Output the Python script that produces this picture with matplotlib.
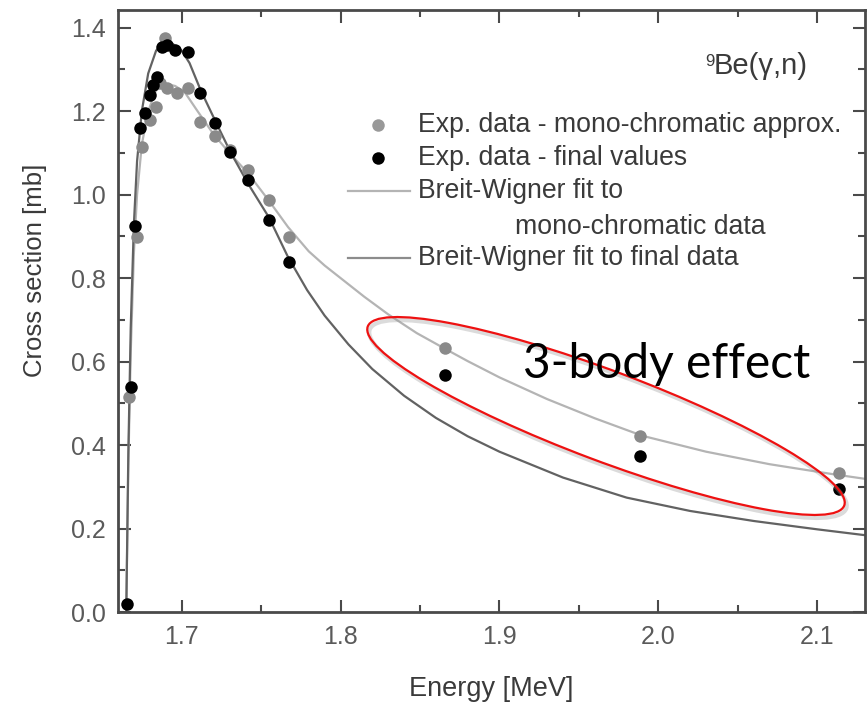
import matplotlib
matplotlib.use("Agg")
import matplotlib.pyplot as plt
from matplotlib.patches import Ellipse
from matplotlib.ticker import MultipleLocator, FormatStrFormatter

plt.rcParams["font.family"] = "Liberation Sans"

# experimental points: mono-chromatic approximation (gray)
E_mono = [1.6668, 1.6717, 1.6750, 1.6800, 1.6840, 1.6865, 1.6896, 1.6910, 1.6970,
          1.7040, 1.7117, 1.7211, 1.7306, 1.7421, 1.7547, 1.7673, 1.8660, 1.9885, 2.1139]
sig_mono = [0.515, 0.899, 1.115, 1.178, 1.210, 1.266, 1.375, 1.254, 1.242,
            1.254, 1.174, 1.139, 1.107, 1.059, 0.987, 0.899, 0.633, 0.422, 0.332]

# experimental points: final values (black)
E_fin = [1.6655, 1.6680, 1.6707, 1.6739, 1.6769, 1.6802, 1.6822, 1.6847, 1.6875, 1.6907,
         1.6960, 1.7040, 1.7117, 1.7211, 1.7306, 1.7421, 1.7547, 1.7673, 1.8660, 1.9885, 2.1139]
sig_fin = [0.02, 0.54, 0.925, 1.159, 1.195, 1.238, 1.262, 1.282, 1.354, 1.358,
           1.346, 1.342, 1.242, 1.172, 1.103, 1.035, 0.940, 0.839, 0.568, 0.374, 0.294]

# Breit-Wigner fit to mono-chromatic data
E_bw_mono = [1.6652, 1.6665, 1.668, 1.670, 1.672, 1.675, 1.679, 1.684, 1.690, 1.696, 1.702,
             1.710, 1.720, 1.730, 1.742, 1.755, 1.767, 1.780, 1.790, 1.800, 1.815, 1.830,
             1.848, 1.866, 1.880, 1.900, 1.930, 1.960, 1.990, 2.030, 2.070, 2.110, 2.130]
sig_bw_mono = [0.0, 0.35, 0.62, 0.86, 1.00, 1.12, 1.20, 1.25, 1.265, 1.26, 1.245,
               1.20, 1.145, 1.100, 1.050, 0.985, 0.922, 0.864, 0.830, 0.800, 0.755, 0.713,
               0.668, 0.630, 0.601, 0.562, 0.510, 0.464, 0.422, 0.384, 0.354, 0.330, 0.319]

# Breit-Wigner fit to final data
E_bw_fin = [1.6652, 1.6665, 1.668, 1.670, 1.672, 1.675, 1.679, 1.684, 1.689, 1.694, 1.700,
            1.705, 1.712, 1.722, 1.731, 1.742, 1.755, 1.767, 1.779, 1.790, 1.805, 1.820,
            1.840, 1.860, 1.880, 1.900, 1.940, 1.980, 2.020, 2.060, 2.100, 2.130]
sig_bw_fin = [0.0, 0.38, 0.68, 0.93, 1.08, 1.20, 1.29, 1.345, 1.362, 1.362, 1.345,
              1.315, 1.25, 1.17, 1.10, 1.025, 0.945, 0.850, 0.771, 0.710, 0.641, 0.582,
              0.518, 0.465, 0.421, 0.384, 0.322, 0.274, 0.242, 0.218, 0.198, 0.184]

LIGHT = "#b4b4b4"; DARK = "#626262"; PTGRAY = "#8a8a8a"; AXC = "#4a4a4a"; TXT = "#3a3a3a"

fig = plt.figure(figsize=(8.68, 7.07), dpi=100)
fig.patch.set_facecolor("white")
L, R, T, B = 118, 865, 10, 612
ax = fig.add_axes([L / 868, (707 - B) / 707, (R - L) / 868, (B - T) / 707])

ax.plot(E_bw_mono, sig_bw_mono, color=LIGHT, lw=1.6, zorder=2)
ax.plot(E_bw_fin, sig_bw_fin, color=DARK, lw=1.6, zorder=2)
ax.plot(E_mono, sig_mono, "o", color=PTGRAY, ms=9, mec="none", zorder=3)
ax.plot(E_fin, sig_fin, "o", color="black", ms=9, mec="none", zorder=4)

ax.set_xlim(1.66, 2.13)
ax.set_ylim(0, 1.442)
ax.xaxis.set_major_locator(MultipleLocator(0.1))
ax.xaxis.set_minor_locator(MultipleLocator(0.05))
ax.yaxis.set_major_locator(MultipleLocator(0.2))
ax.yaxis.set_minor_locator(MultipleLocator(0.1))
ax.xaxis.set_major_formatter(FormatStrFormatter("%.1f"))
ax.yaxis.set_major_formatter(FormatStrFormatter("%.1f"))
ax.tick_params(which="both", direction="in", top=True, right=True, color=AXC,
               width=1.5, labelcolor="#5a5a5a", labelsize=18)
ax.tick_params(which="major", length=9)
ax.tick_params(which="minor", length=5)
ax.tick_params(axis="x", pad=9)
ax.tick_params(axis="y", pad=9)
for s in ax.spines.values():
    s.set_color(AXC)
    s.set_linewidth(2)

ax.set_xlabel("Energy [MeV]", fontsize=19.5, color=TXT, labelpad=20)
ax.set_ylabel("Cross section [mb]", fontsize=18.5, color=TXT)
ax.yaxis.set_label_coords((47 - L) / (R - L), (B - 270) / (B - T))


def px(x, y):
    return (x - L) / (R - L), (B - y) / (B - T)


# reaction label
ax.text(*px(705, 61), "9", fontsize=12, color=TXT, ha="left", va="center",
        transform=ax.transAxes)
ax.text(*px(714, 66), "Be(γ,n)", fontsize=21, color=TXT, ha="left", va="center",
        transform=ax.transAxes)

# legend, laid out by hand to keep the indented second line
kw = dict(transform=ax.transAxes, clip_on=False)
ax.plot(*px(378, 125), "o", color="#999999", ms=9, mec="none", **kw)
ax.plot(*px(378, 158), "o", color="black", ms=9, mec="none", **kw)
x0, y0 = px(348, 191); x1, _ = px(410, 191)
ax.plot([x0, x1], [y0, y0], color=LIGHT, lw=1.6, **kw)
x0, y0 = px(348, 258); x1, _ = px(410, 258)
ax.plot([x0, x1], [y0, y0], color="#8c8c8c", lw=1.6, **kw)
legend_rows = [(418, 125, "Exp. data - mono-chromatic approx."),
               (418, 158, "Exp. data - final values"),
               (418, 191, "Breit-Wigner fit to"),
               (515, 227, "mono-chromatic data"),
               (418, 258, "Breit-Wigner fit to final data")]
for lx, ly, lab in legend_rows:
    ax.text(*px(lx, ly), lab, fontsize=19.2, color=TXT, ha="left", va="center",
            transform=ax.transAxes)

# annotation
fig.text(523 / 868, 1 - 378 / 707, "3-body effect", family="Lato", fontsize=34.5,
         color="black", ha="left", va="baseline")
sh = Ellipse((6.08, 7.07 - 4.19), 5.09, 0.90, angle=-20.6, fill=False,
             ec="#999999", lw=3.0, alpha=0.35, transform=fig.dpi_scale_trans)
fig.add_artist(sh)
el = Ellipse((6.06, 7.07 - 4.16), 5.09, 0.90, angle=-20.6, fill=False,
             ec="#ee1111", lw=1.6, transform=fig.dpi_scale_trans)
fig.add_artist(el)

fig.savefig("out.png", dpi=100, facecolor="white")
